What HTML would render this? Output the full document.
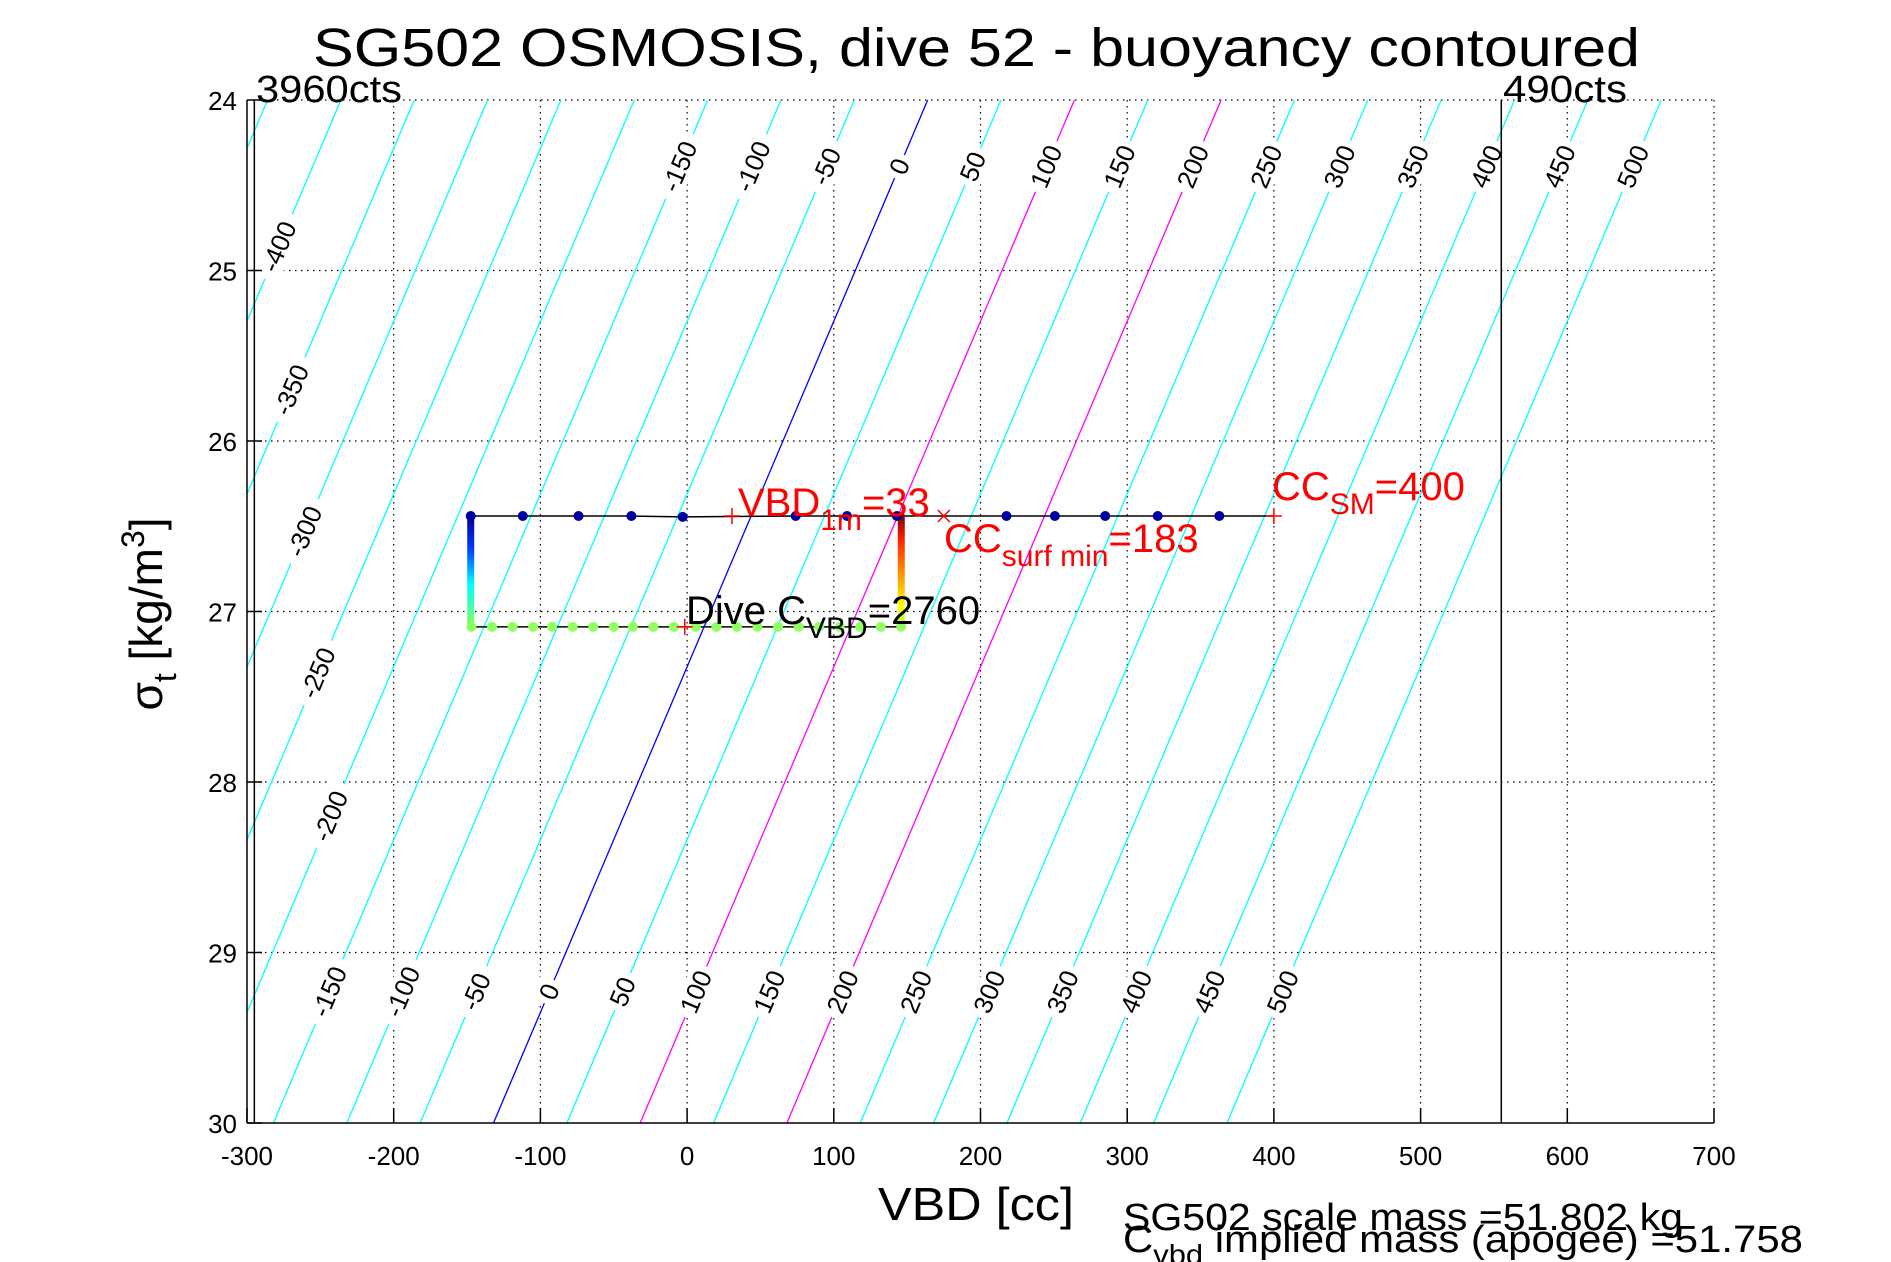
<!DOCTYPE html>
<html><head><meta charset="utf-8"><style>
body{margin:0;background:#fff}
svg{display:block;font-family:"Liberation Sans",sans-serif}
</style></head><body>
<svg id="chart" width="1891" height="1262" viewBox="0 0 1891 1262" xmlns="http://www.w3.org/2000/svg">
<defs>
<clipPath id="plotclip"><rect x="247" y="100" width="1467" height="1023"/></clipPath>
<linearGradient id="gl" gradientUnits="userSpaceOnUse" x1="0" y1="516" x2="0" y2="630">
<stop offset="0" stop-color="#00009a"/><stop offset="0.3" stop-color="#0040ff"/><stop offset="0.6" stop-color="#00ffff"/><stop offset="1" stop-color="#90ff50"/></linearGradient>
<linearGradient id="gr" gradientUnits="userSpaceOnUse" x1="0" y1="516" x2="0" y2="630">
<stop offset="0" stop-color="#800000"/><stop offset="0.2" stop-color="#ff2000"/><stop offset="0.5" stop-color="#ff9000"/><stop offset="0.8" stop-color="#ffff00"/><stop offset="1" stop-color="#90ff50"/></linearGradient>
</defs>
<text x="313" y="66" font-size="54" textLength="1327" lengthAdjust="spacingAndGlyphs">SG502 OSMOSIS, dive 52 - buoyancy contoured</text>
<g id="grid"></g>
<g id="contours" clip-path="url(#plotclip)"></g>
<g id="clabels"></g>
<g id="data"></g>
<line x1="247" y1="100" x2="247" y2="1123" stroke="#000" stroke-width="1.5"/>
<line x1="247" y1="1123" x2="1714" y2="1123" stroke="#000" stroke-width="1.5"/>
<g id="axes"></g>
<text x="256" y="102" font-size="38" textLength="146" lengthAdjust="spacingAndGlyphs">3960cts</text>
<text x="1503" y="102" font-size="38" textLength="124" lengthAdjust="spacingAndGlyphs">490cts</text>
<text x="976" y="1220" font-size="46" text-anchor="middle" textLength="196" lengthAdjust="spacingAndGlyphs">VBD [cc]</text>
<text transform="translate(162,614) rotate(-90)" font-size="46" text-anchor="middle">σ<tspan font-size="32" dy="14">t</tspan><tspan dy="-14"> [kg/m</tspan><tspan font-size="32" dy="-18">3</tspan><tspan dy="18">]</tspan></text>
<text x="738" y="516" font-size="40" fill="#ff0000">VBD<tspan font-size="30" dy="14">1m</tspan><tspan dy="-14">=33</tspan></text>
<text x="944" y="552" font-size="40" fill="#ff0000">CC<tspan font-size="30" dy="14">surf min</tspan><tspan dy="-14">=183</tspan></text>
<text x="1272" y="500" font-size="40" fill="#ff0000">CC<tspan font-size="30" dy="14">SM</tspan><tspan dy="-14">=400</tspan></text>
<text x="686" y="624" font-size="40" fill="#000">Dive C<tspan font-size="30" dy="14">VBD</tspan><tspan dy="-14">=2760</tspan></text>
<text x="1123" y="1230" font-size="38" textLength="560" lengthAdjust="spacingAndGlyphs">SG502 scale mass =51.802 kg</text>
<text x="1123" y="1252" font-size="38" textLength="680" lengthAdjust="spacingAndGlyphs">C<tspan font-size="28" dy="12">vbd</tspan><tspan dy="-12"> implied mass (apogee) =51.758</tspan></text>
</svg>
<script>
const xTicks = [-300,-200,-100,0,100,200,300,400,500,600,700];
const yTicks = [24,25,26,27,28,29,30];
const levels = [-450,-400,-350,-300,-250,-200,-150,-100,-50,0,50,100,150,200,250,300,350,400,450,500];
const topLabelLevels = [-150,-100,-50,0,50,100,150,200,250,300,350,400,450,500];
const bottomLabelLevels = [-150,-100,-50,0,50,100,150,200,250,300,350,400,450,500];
const leftLabelLevels = [-400,-350,-300,-250,-200];
const leftLabelSigma = [24.86,25.7,26.53,27.36,28.2];
const topVbd = [-147.5,-112,-74,-38,-3,74,109,143,217.7,250.7,285,320.8,362.8];
const topSigma = [26.44,26.44,26.44,26.44,26.445,26.44,26.44,26.44,26.44,26.44,26.44,26.44,26.44];
const bottomVbd = [-147,-133,-119,-105,-92,-78,-64,-50,-37,-23,-9,6,20,34,48,62,76,90,104,118,132,146];
const sigmaTop = 26.44, sigmaBottom = 27.09;
const leftVbd = -147.5, rightVbd = 146;
const redPlus = [[30.6,26.44],[400,26.44],[-1.6,27.09]];
const redCross = [[175,26.44]];
const cts3960Vbd = -295, cts490Vbd = 555;
const contourOffset = 164, contourSlope = 49.33;

const NS='http://www.w3.org/2000/svg';
const X0=247,X1=1714,Y0=100,Y1=1123;
const xs=v=>X0+(v+300)*(X1-X0)/1000;
const ys=s=>Y0+(s-24)*(Y1-Y0)/6;
function mk(tag,attrs,parent){const e=document.createElementNS(NS,tag);for(const k in attrs)e.setAttribute(k,attrs[k]);parent.appendChild(e);return e;}
const grid=document.getElementById('grid'),axes=document.getElementById('axes');
const cont=document.getElementById('contours'),cl=document.getElementById('clabels'),data=document.getElementById('data');

xTicks.forEach(t=>{const x=xs(t);
 if(t>-300&&t<=700){const g=mk('line',{x1:x,y1:Y0,x2:x,y2:Y1,stroke:'#000','stroke-width':1.2,'stroke-dasharray':'1.5,4.5'},grid);
 
 }
 const tk=mk('line',{x1:x,y1:Y1,x2:x,y2:Y1-15,stroke:'#000','stroke-width':1.5},axes);
 
 
 const lb=mk('text',{x:x,y:Y1+42,'font-size':26,'text-anchor':'middle'},axes);lb.textContent=t;
 
 
});
yTicks.forEach(t=>{const y=ys(t);
 if(t<30){const g=mk('line',{x1:X0,y1:y,x2:X1,y2:y,stroke:'#000','stroke-width':1.2,'stroke-dasharray':'1.5,4.5'},grid);
 
 }
 const tk=mk('line',{x1:X0,y1:y,x2:X0+15,y2:y,stroke:'#000','stroke-width':1.5},axes);
 
 
 const lb=mk('text',{x:X0-10,y:y+10,'font-size':26,'text-anchor':'end'},axes);lb.textContent=t;
 
 
});
const contourVbd=(L,s)=>L+contourOffset-contourSlope*(s-24);
levels.forEach(L=>{
 const col=L===0?'#0000ff':(L===100||L===200)?'#ff00ff':'#00ffff';
 const ln=mk('line',{x1:xs(contourVbd(L,24)),y1:ys(24),x2:xs(contourVbd(L,30)),y2:ys(30),stroke:col,'stroke-width':1.3},cont);
 
 
});
const ang=-Math.atan2(ys(1)-ys(0),xs(contourSlope)-xs(0))*180/Math.PI;
function clabel(L,s){const x=xs(contourVbd(L,s)),y=ys(s);
 const g=mk('g',{transform:`translate(${x},${y}) rotate(${ang})`},cl);
 
 
 const w=String(L).length*15+10;
 mk('rect',{x:-w/2,y:-14,width:w,height:28,fill:'#fff'},g);
 const t=mk('text',{x:0,y:9,'font-size':26,'text-anchor':'middle'},g);t.textContent=L;}
topLabelLevels.forEach(L=>clabel(L,24.39));
bottomLabelLevels.forEach(L=>clabel(L,29.23));
leftLabelLevels.forEach((L,i)=>clabel(L,leftLabelSigma[i]));

[[cts3960Vbd,'cts-3960-line'],[cts490Vbd,'cts-490-line']].forEach(([v,n])=>{
 const l=mk('line',{x1:xs(v),y1:Y0,x2:xs(v),y2:Y1,stroke:'#000','stroke-width':1.5},data);
 
 
});
let pts=[[leftVbd,sigmaTop]];topVbd.forEach((v,i)=>pts.push([v,topSigma[i]]));pts.push([400,sigmaTop]);
pts.sort((a,b)=>a[0]-b[0]);
const tp=mk('polyline',{points:pts.map(p=>xs(p[0])+','+ys(p[1])).join(' '),fill:'none',stroke:'#000','stroke-width':1.5},data);


const bp=mk('polyline',{points:[leftVbd,...bottomVbd].map(v=>xs(v)+','+ys(sigmaBottom)).join(' '),fill:'none',stroke:'#000','stroke-width':1.5},data);


const lv=mk('line',{x1:xs(leftVbd),y1:ys(sigmaTop),x2:xs(leftVbd),y2:ys(sigmaBottom),stroke:'url(#gl)','stroke-width':7,'stroke-linecap':'round'},data);


const rv=mk('line',{x1:xs(rightVbd),y1:ys(sigmaTop),x2:xs(rightVbd),y2:ys(sigmaBottom),stroke:'url(#gr)','stroke-width':7,'stroke-linecap':'round'},data);


topVbd.forEach((v,i)=>{const c=mk('circle',{cx:xs(v),cy:ys(topSigma[i]),r:5,fill:'#0000a0'},data);
 
 });
bottomVbd.forEach(v=>{const c=mk('circle',{cx:xs(v),cy:ys(sigmaBottom),r:5,fill:'#90ff60'},data);
 
 });
redPlus.forEach(p=>{const x=xs(p[0]),y=ys(p[1]);
 const g=mk('path',{d:`M${x-8},${y}H${x+8}M${x},${y-8}V${y+8}`,stroke:'#ff0000','stroke-width':1.5},data);
 
 });
redCross.forEach(p=>{const x=xs(p[0]),y=ys(p[1]);
 const g=mk('path',{d:`M${x-6},${y-6}L${x+6},${y+6}M${x-6},${y+6}L${x+6},${y-6}`,stroke:'#ff0000','stroke-width':1.5},data);
 
 });
</script>
</body></html>
